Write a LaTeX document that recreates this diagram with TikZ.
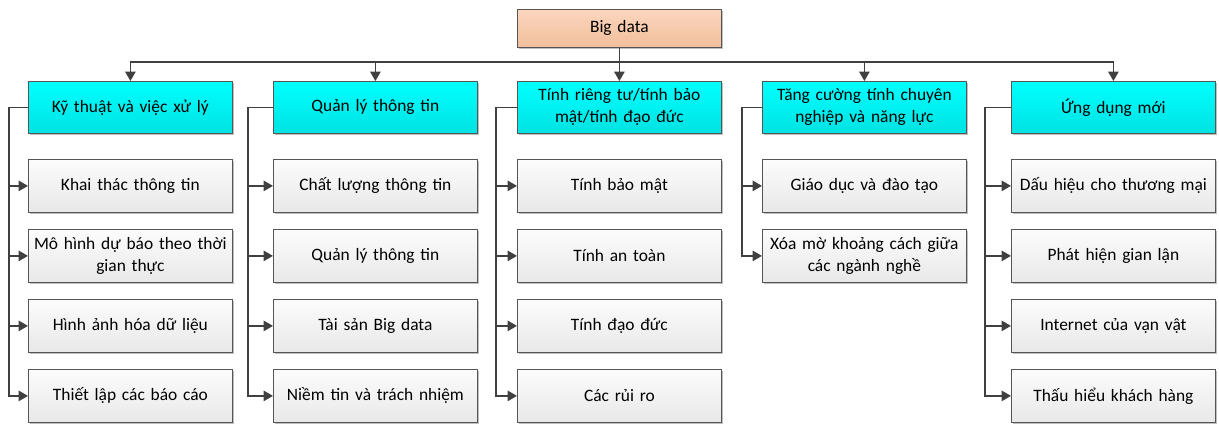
\documentclass[tikz,border=0pt]{standalone}
\usepackage{fontspec}
\setmainfont{Carlito}
\usetikzlibrary{arrows.meta,shadows}
\definecolor{linec}{HTML}{404040}
\definecolor{borderc}{HTML}{555555}
\begin{document}
\begin{tikzpicture}[x=1pt,y=-1pt,
  basebox/.style={draw=borderc,line width=0.8pt,minimum width=204pt,minimum height=52pt,
    anchor=north west,inner sep=2pt,align=center,text width=198pt,
    font=\fontsize{17.4}{22}\selectfont,
    drop shadow={shadow xshift=2pt,shadow yshift=-2pt,fill=black,opacity=0.25}},
  rootbox/.style={basebox,minimum height=38pt,top color=rootT,bottom color=rootB},
  topbox/.style={basebox,top color=cyanT,bottom color=cyanB},
  childbox/.style={basebox,minimum height=53pt,top color=childT,bottom color=childB},
  conn/.style={draw=linec,line width=1.6pt},
  arr/.style={conn,-{Triangle[length=9.5pt,width=10.5pt]}}]
\definecolor{rootT}{HTML}{FAD6BE}
\definecolor{rootB}{HTML}{F2BE9B}
\definecolor{cyanT}{HTML}{00FFFF}
\definecolor{cyanB}{HTML}{00E2E2}
\definecolor{childT}{HTML}{FCFCFC}
\definecolor{childB}{HTML}{E8E8E8}
\useasboundingbox (0,0) rectangle (1219,424);
% root
\node[rootbox] (big) at (517,9) {Big data};
% top level
\node[topbox] (t1) at (28,81)   {Kỹ thuật và việc xử lý};
\node[topbox] (t2) at (273,81)  {Quản lý thông tin};
\node[topbox] (t3) at (517,81)  {Tính riêng tư/tính bảo\\mật/tính đạo đức};
\node[topbox] (t4) at (762,81)  {Tăng cường tính chuyên\\nghiệp và năng lực};
\node[topbox] (t5) at (1011,81) {Ứng dụng mới};
% column 1
\node[childbox] (c11) at (28,159) {Khai thác thông tin};
\node[childbox] (c12) at (28,229) {Mô hình dự báo theo thời\\gian thực};
\node[childbox] (c13) at (28,299) {Hình ảnh hóa dữ liệu};
\node[childbox] (c14) at (28,369) {Thiết lập các báo cáo};
% column 2
\node[childbox] (c21) at (273,159) {Chất lượng thông tin};
\node[childbox] (c22) at (273,229) {Quản lý thông tin};
\node[childbox] (c23) at (273,299) {Tài sản Big data};
\node[childbox] (c24) at (273,369) {Niềm tin và trách nhiệm};
% column 3
\node[childbox] (c31) at (517,159) {Tính bảo mật};
\node[childbox] (c32) at (517,229) {Tính an toàn};
\node[childbox] (c33) at (517,299) {Tính đạo đức};
\node[childbox] (c34) at (517,369) {Các rủi ro};
% column 4
\node[childbox] (c41) at (762,159) {Giáo dục và đào tạo};
\node[childbox] (c42) at (762,229) {Xóa mờ khoảng cách giữa\\các ngành nghề};
% column 5
\node[childbox] (c51) at (1011,159) {Dấu hiệu cho thương mại};
\node[childbox] (c52) at (1011,229) {Phát hiện gian lận};
\node[childbox] (c53) at (1011,299) {Internet của vạn vật};
\node[childbox] (c54) at (1011,369) {Thấu hiểu khách hàng};
% bus from root
\foreach \t in {t1,t2,t3,t4,t5}
  \draw[arr] (big.south) -- ++(0,14) -| (\t.north);
% forks
\foreach \c in {c11,c12,c13,c14} \draw[arr] (t1.west) -- ++(-19,0) |- (\c.west);
\foreach \c in {c21,c22,c23,c24} \draw[arr] (t2.west) -- ++(-25,0) |- (\c.west);
\foreach \c in {c31,c32,c33,c34} \draw[arr] (t3.west) -- ++(-21,0) |- (\c.west);
\foreach \c in {c41,c42} \draw[arr] (t4.west) -- ++(-20,0) |- (\c.west);
\foreach \c in {c51,c52,c53,c54} \draw[arr] (t5.west) -- ++(-26,0) |- (\c.west);
\end{tikzpicture}
\end{document}
